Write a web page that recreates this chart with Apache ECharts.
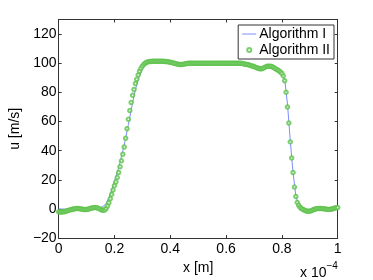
<!DOCTYPE html>
<html>
<head>
<meta charset="utf-8">
<script src="https://cdn.jsdelivr.net/npm/echarts@6/dist/echarts.min.js"></script>
<style>html,body{margin:0;padding:0;background:#fff;}#c{width:373px;height:280px;}</style>
</head>
<body>
<div id="c"></div>
<script>
// x axis in units of 1e-4 m
const xTicks = [0, 0.2, 0.4, 0.6, 0.8, 1];
const yTicks = [-20, 0, 20, 40, 60, 80, 100, 120];
const seriesNames = ['Algorithm I', 'Algorithm II'];

// Algorithm I (line), sampled every 0.01e-4 m from 0 to 1e-4 m
const lineStep = 0.01;
const algI = [
  0.0,0.0,-0.1,-0.2,-0.3,-0.3,0.0,0.3,0.1,-0.2,
  -0.3,0.0,0.5,0.9,1.0,1.0,1.8,3.8,7.5,13.0,
  19.0,25.0,32.0,40.0,48.5,58.0,68.0,77.5,85.5,91.5,
  96.0,99.0,100.5,101.1,101.3,101.3,101.3,101.3,101.2,101.0,
  100.7,100.2,99.6,99.2,99.1,99.4,99.8,100.0,100.0,100.0,
  100.0,100.0,100.0,100.0,100.0,100.0,100.0,100.0,100.0,100.0,
  100.0,100.0,100.0,100.0,100.0,100.0,99.7,99.3,98.9,98.3,
  97.7,96.9,96.2,96.3,97.2,97.8,97.8,97.0,96.0,95.0,
  93.5,89.0,72.0,47.0,25.0,9.0,2.8,0.4,-0.8,-1.5,
  -1.5,-0.8,0.0,0.3,0.3,0.1,-0.2,-0.3,0.0,0.6,
  1.0
];

// Algorithm II (circles), sampled every 0.005e-4 m
const circStep = 0.005;
const algII = [
  -2.0,-2.1,-2.1,-2.0,-1.9,-1.6,-1.3,-1.0,-0.7,-0.4,
  -0.2,0.0,0.2,0.3,0.3,0.2,0.0,-0.2,-0.4,-0.4,
  -0.4,-0.2,0.1,0.4,0.7,0.9,1.0,0.9,0.6,0.2,
  -0.3,-0.7,-0.9,-0.7,0.3,2.0,4.3,7.0,10.0,13.0,
  16.0,18.5,21.5,25.0,29.0,33.0,37.5,42.5,48.5,55.0,
  61.5,67.5,73.0,78.0,82.0,86.0,89.0,92.0,94.5,96.5,
  98.0,99.2,100.0,100.6,100.9,101.1,101.2,101.3,101.3,101.3,
  101.3,101.3,101.3,101.3,101.3,101.3,101.2,101.1,101.0,100.9,
  100.7,100.5,100.2,99.9,99.6,99.4,99.2,99.1,99.1,99.2,
  99.4,99.6,99.8,99.9,100.0,100.0,100.0,100.0,100.0,100.0,
  100.0,100.0,100.0,100.0,100.0,100.0,100.0,100.0,100.0,100.0,
  100.0,100.0,100.0,100.0,100.0,100.0,100.0,100.0,100.0,100.0,
  100.0,100.0,100.0,100.0,100.0,100.0,100.0,100.0,100.0,100.0,
  100.0,99.9,99.7,99.5,99.3,99.1,98.9,98.6,98.3,98.0,
  97.7,97.3,96.9,96.5,96.2,96.1,96.3,96.8,97.3,97.7,
  97.9,98.0,97.9,97.6,97.1,96.5,95.9,95.3,94.7,94.0,
  93.0,91.3,88.0,80.0,70.0,59.0,46.0,35.0,25.0,15.0,
  8.5,4.5,2.5,1.2,0.3,-0.3,-0.8,-1.2,-1.5,-1.6,
  -1.5,-1.2,-0.8,-0.4,0.0,0.2,0.3,0.3,0.3,0.2,
  0.1,0.0,-0.2,-0.3,-0.3,-0.2,0.0,0.3,0.6,0.8,
  1.0
];

const font = 'Liberation Sans, Arial, Helvetica, sans-serif';
const axisCol = '#333';
const blue = '#7b8cff';
const green = '#5cc24a';
const lineData = algI.map((v, i) => [+(i * lineStep).toFixed(4), v]);
const circData = algII.map((v, i) => [+(i * circStep).toFixed(4), v]);
const fmtNum = v => String(v).replace('-', '\u2212');

const chart = echarts.init(document.getElementById('c'), null, {renderer: 'canvas'});
const commonAxisLine = {show: true, onZero: false, lineStyle: {color: axisCol, width: 1}};
const tickIn = {show: true, inside: true, length: 3, lineStyle: {color: axisCol}};
chart.setOption({
  animation: false,
  backgroundColor: '#fff',
  grid: {left: 48.7, right: 35.3, top: 19.5, bottom: 38.3, containLabel: false},
  legend: {
    orient: 'vertical', right: 39, top: 25,
    backgroundColor: '#fff', borderColor: axisCol, borderWidth: 1,
    padding: [2, 4, 2, 4], itemGap: 2, itemWidth: 14, itemHeight: 4,
    textStyle: {fontFamily: font, fontSize: 14, color: '#000', padding: [0, 0, 0, -2]},
    data: [
      {name: seriesNames[0], icon: 'path://M0,0 L14,0 L14,1 L0,1 Z', itemStyle: {color: blue}},
      {name: seriesNames[1], itemStyle: {borderWidth: 0.8}}
    ]
  },
  xAxis: [{
    type: 'value', min: xTicks[0], max: xTicks[xTicks.length - 1], interval: 0.2,
    position: 'bottom',
    axisLine: commonAxisLine, axisTick: tickIn, splitLine: {show: false},
    axisLabel: {fontFamily: font, fontSize: 14, color: '#000', margin: 4,
      formatter: v => xTicks.some(t => Math.abs(t - v) < 1e-9) ? fmtNum(+v.toFixed(1)) : ''},
    name: 'x [m]', nameLocation: 'middle', nameGap: 13,
    nameTextStyle: {fontFamily: font, fontSize: 14, color: '#000'}
  }, {
    type: 'value', min: 0, max: 1, interval: 0.2, position: 'top',
    axisLine: commonAxisLine, axisTick: tickIn, axisLabel: {show: false}, splitLine: {show: false}
  }],
  yAxis: [{
    type: 'value', min: -20, max: 130, interval: 20, position: 'left',
    axisLine: commonAxisLine, axisTick: tickIn, splitLine: {show: false},
    axisLabel: {fontFamily: font, fontSize: 14, color: '#000', margin: 2,
      formatter: v => yTicks.indexOf(v) >= 0 ? fmtNum(v) : ''},
    name: 'u [m/s]', nameLocation: 'middle', nameGap: 27,
    nameTextStyle: {fontFamily: font, fontSize: 14, color: '#000'}
  }, {
    type: 'value', min: -20, max: 130, interval: 20, position: 'right',
    axisLine: commonAxisLine, axisTick: tickIn, axisLabel: {show: false}, splitLine: {show: false}
  }],
  series: [{
    name: seriesNames[0], type: 'line', data: lineData, symbol: 'none',
    lineStyle: {color: blue, width: 1}, itemStyle: {color: blue}, z: 2
  }, {
    name: seriesNames[1], type: 'scatter', data: circData, symbol: 'emptyCircle', symbolSize: 3.5,
    itemStyle: {color: green, borderWidth: 0.8}, z: 3
  }],
  graphic: [{
    type: 'text', left: 300, top: 261,
    style: {
      text: '{a|x 10}{b|\u22124}',
      rich: {
        a: {fontFamily: font, fontSize: 14, fill: '#000', padding: [8, 0, 0, 0]},
        b: {fontFamily: font, fontSize: 10, fill: '#000', padding: [0, 0, 6, 0]}
      }
    }
  }]
});
</script>
</body>
</html>
